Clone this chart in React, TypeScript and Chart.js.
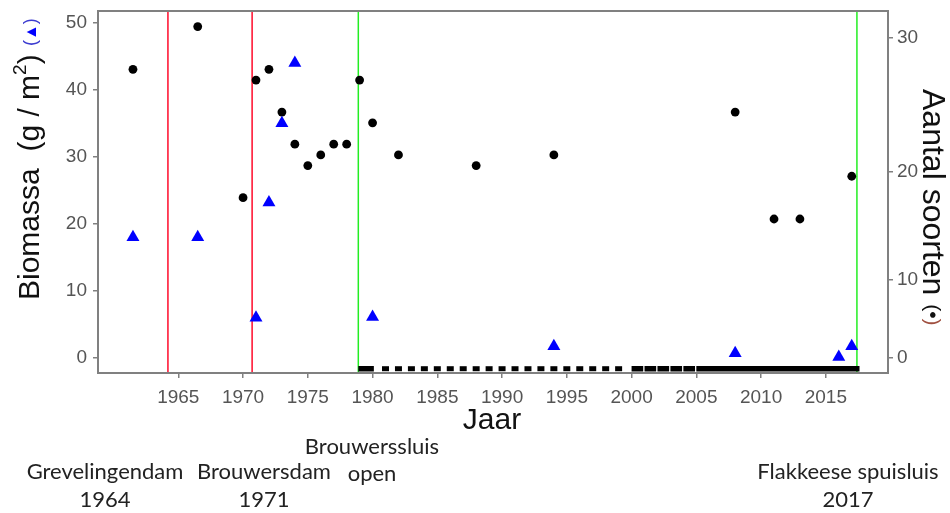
import React, { useEffect, useRef } from "react";
import { Chart, registerables } from "chart.js";

Chart.register(...registerables);

// ---- data ----
const speciesYears = [1961.5, 1966.5, 1970, 1971, 1972, 1973, 1974, 1975, 1976, 1977, 1978, 1979, 1980, 1982, 1988, 1994, 2008, 2011, 2013, 2017];
const speciesCounts = [27, 31, 15, 26, 27, 23, 20, 18, 19, 20, 20, 26, 22, 19, 18, 19, 23, 13, 13, 17];

const biomassYears = [1961.5, 1966.5, 1971, 1972, 1973, 1974, 1980, 1994, 2008, 2016, 2017];
const biomassValues = [18, 18, 6, 23.2, 35, 44, 6.1, 1.75, 0.7, 0.15, 1.75];

const eventYears = [1964.2, 1970.7, 1978.9, 2017.4];
const eventColors = ["#ff0a2a", "#ff0a2a", "#22ee22", "#22ee22"];
const eventLabels = [
  ["Grevelingendam", "1964"],
  ["Brouwersdam", "1971"],
  ["Brouwerssluis", "open"],
  ["Flakkeese spuisluis", "2017"],
];

const monitoringYears = [1981, 1982, 1983, 1984, 1985, 1986, 1987, 1988, 1989, 1990, 1991, 1992, 1993, 1994, 1995, 1996, 1997, 1998, 1999];
const monitoringSegments = [
  [1978.9, 1980.1],
  [2000.0, 2000.9],
  [2001.0, 2001.9],
  [2002.0, 2002.9],
  [2003.0, 2003.9],
  [2004.0, 2004.9],
  [2005.0, 2017.6],
];
const monitoringLevel = -1.6;

const xTicks = [1965, 1970, 1975, 1980, 1985, 1990, 1995, 2000, 2005, 2010, 2015];
const biomassTicks = [0, 10, 20, 30, 40, 50];
// right-axis tick labels, and where they sit on the (linear) species scale in the reference
const speciesTickLabels = ["0", "10", "20", "30"];
const speciesTickPositions = [0, 7.3, 17.4, 30];

const X_MIN = 1958.8, X_MAX = 2019.8;
const Y_MIN = -2.24, Y_MAX = 51.75;
const Y2_MIN = -1.406, Y2_MAX = 32.46;

const FONT = "'Liberation Sans', Arial, sans-serif";
const TICK_COLOR = "#555555";
const AXIS_GRAY = "#808080";

const overlay = {
  id: "overlay",
  afterDraw(chart: any) {
    const { ctx, chartArea: a } = chart;
    ctx.save();
    // panel border
    ctx.strokeStyle = AXIS_GRAY;
    ctx.lineWidth = 2;
    ctx.strokeRect(a.left, a.top, a.right - a.left, a.bottom - a.top);

    let x = 0;
    const put = (t: string, size: number, color: string, dy = 0) => {
      ctx.font = `${size}px ${FONT}`;
      ctx.fillStyle = color;
      ctx.fillText(t, x, dy);
      x += ctx.measureText(t).width;
    };

    // left axis title
    ctx.save();
    ctx.translate(39, 300);
    ctx.rotate(-Math.PI / 2);
    ctx.textBaseline = "alphabetic";
    ctx.textAlign = "left";
    x = 0;
    put("Biomassa  (g / m", 30, "#111");
    put("2", 19, "#111", -13);
    put(") ", 30, "#111");
    put("(", 18, "#3b3bd0", -3);
    put("\u25B2", 16, "#0000ff", -3);
    put(")", 18, "#3b3bd0", -3);
    ctx.restore();

    // right axis title
    ctx.save();
    ctx.translate(923, 89);
    ctx.rotate(Math.PI / 2);
    ctx.textBaseline = "alphabetic";
    ctx.textAlign = "left";
    x = 0;
    put("Aantal soorten ", 32, "#111");
    put("(", 21, "#111", -3);
    put("\u2022", 21, "#111", -3);
    put(")", 21, "#a05040", -3);
    ctx.restore();

    // x title
    ctx.font = `30px ${FONT}`;
    ctx.fillStyle = "#111";
    ctx.textAlign = "center";
    ctx.textBaseline = "middle";
    ctx.fillText("Jaar", 492, 421);

    // event annotations
    ctx.font = `22px Lato, 'Open Sans', sans-serif`;
    ctx.fillStyle = "#222";
    const pos = [
      [105, 472, 500],
      [264, 472, 500],
      [372, 447, 474],
      [848, 472, 500],
    ];
    eventLabels.forEach((lbl, i) => {
      ctx.fillText(lbl[0], pos[i][0], pos[i][1]);
      ctx.fillText(lbl[1], pos[i][0], pos[i][2]);
    });
    ctx.restore();
  },
};

function buildMonitoringLine() {
  const pts: any[] = [];
  monitoringSegments.forEach((seg, i) => {
    pts.push({ x: seg[0], y: monitoringLevel });
    pts.push({ x: seg[1], y: monitoringLevel });
    if (i < monitoringSegments.length - 1) pts.push({ x: (seg[1] + monitoringSegments[i + 1][0]) / 2, y: null });
  });
  return pts;
}

const fixWidth = (w: number) => (s: any) => {
  s.width = w;
  s.paddingTop = 0;
  s.paddingBottom = 0;
};

export default function App() {
  const ref = useRef<HTMLCanvasElement | null>(null);

  useEffect(() => {
    if (!ref.current) return;
    const datasets: any[] = [
      {
        label: "Biomassa",
        data: biomassYears.map((yr, i) => ({ x: yr, y: biomassValues[i] })),
        yAxisID: "y",
        pointStyle: "triangle",
        pointRadius: 7.5,
        pointBackgroundColor: "#0000ff",
        pointBorderColor: "#0000ff",
        pointBorderWidth: 0,
        showLine: false,
        order: 0,
      },
      {
        label: "Aantal soorten",
        data: speciesYears.map((yr, i) => ({ x: yr, y: speciesCounts[i] })),
        yAxisID: "y2",
        pointStyle: "circle",
        pointRadius: 4.4,
        pointBackgroundColor: "#000",
        pointBorderColor: "#000",
        pointBorderWidth: 0,
        showLine: false,
        order: 1,
      },
      {
        label: "Monitoring",
        data: monitoringYears.map((yr) => ({ x: yr, y: monitoringLevel })),
        yAxisID: "y",
        pointStyle: "line",
        pointRadius: 3.5,
        pointBorderColor: "#000",
        pointBorderWidth: 5,
        showLine: false,
        order: 2,
      },
      {
        label: "Monitoring continu",
        data: buildMonitoringLine(),
        yAxisID: "y",
        showLine: true,
        spanGaps: false,
        borderColor: "#000",
        borderWidth: 5.5,
        borderCapStyle: "butt",
        pointRadius: 0,
        order: 2,
      },
      ...eventYears.map((yr, i) => ({
        label: "event" + i,
        data: [
          { x: yr, y: Y_MIN },
          { x: yr, y: Y_MAX },
        ],
        yAxisID: "y",
        showLine: true,
        borderColor: eventColors[i],
        borderWidth: 1.5,
        pointRadius: 0,
        order: 3,
      })),
    ];

    const chart = new Chart(ref.current, {
      type: "scatter",
      data: { datasets },
      plugins: [overlay],
      options: {
        animation: false,
        responsive: false,
        maintainAspectRatio: false,
        layout: { padding: { top: 11, left: 0, right: 0, bottom: 0 } },
        plugins: { legend: { display: false }, tooltip: { enabled: false } },
        scales: {
          x: {
            type: "linear",
            min: X_MIN,
            max: X_MAX,
            afterBuildTicks: (s: any) => {
              s.ticks = xTicks.map((v) => ({ value: v }));
            },
            afterFit: (s: any) => {
              s.height = 140;
              s.paddingLeft = 0;
              s.paddingRight = 0;
            },
            ticks: {
              callback: (v: any) => String(v),
              font: { size: 19, family: FONT },
              color: TICK_COLOR,
              padding: 8,
              maxRotation: 0,
              autoSkip: false,
            },
            grid: { drawOnChartArea: false, drawTicks: true, tickLength: 5, color: AXIS_GRAY, lineWidth: 1.5 },
            border: { display: false },
          },
          y: {
            type: "linear",
            position: "left",
            min: Y_MIN,
            max: Y_MAX,
            afterBuildTicks: (s: any) => {
              s.ticks = biomassTicks.map((v) => ({ value: v }));
            },
            afterFit: fixWidth(98),
            ticks: {
              callback: (v: any) => String(v),
              font: { size: 19, family: FONT },
              color: TICK_COLOR,
              padding: 6,
            },
            grid: { drawOnChartArea: false, drawTicks: true, tickLength: 5, color: AXIS_GRAY, lineWidth: 1.5 },
            border: { display: false },
          },
          y2: {
            type: "linear",
            position: "right",
            min: Y2_MIN,
            max: Y2_MAX,
            afterBuildTicks: (s: any) => {
              s.ticks = speciesTickPositions.map((v) => ({ value: v }));
            },
            afterFit: fixWidth(62),
            ticks: {
              callback: (_v: any, i: number) => speciesTickLabels[i],
              font: { size: 19, family: FONT },
              color: TICK_COLOR,
              padding: 4,
            },
            grid: { drawOnChartArea: false, drawTicks: true, tickLength: 5, color: AXIS_GRAY, lineWidth: 1.5 },
            border: { display: false },
          },
        },
      },
    } as any);
    return () => chart.destroy();
  }, []);

  return (
    <div style={{ position: "absolute", left: 0, top: 0, width: 950, height: 513, background: "#fff" }}>
      <canvas ref={ref} width={950} height={513} style={{ width: 950, height: 513, display: "block" }} />
    </div>
  );
}
